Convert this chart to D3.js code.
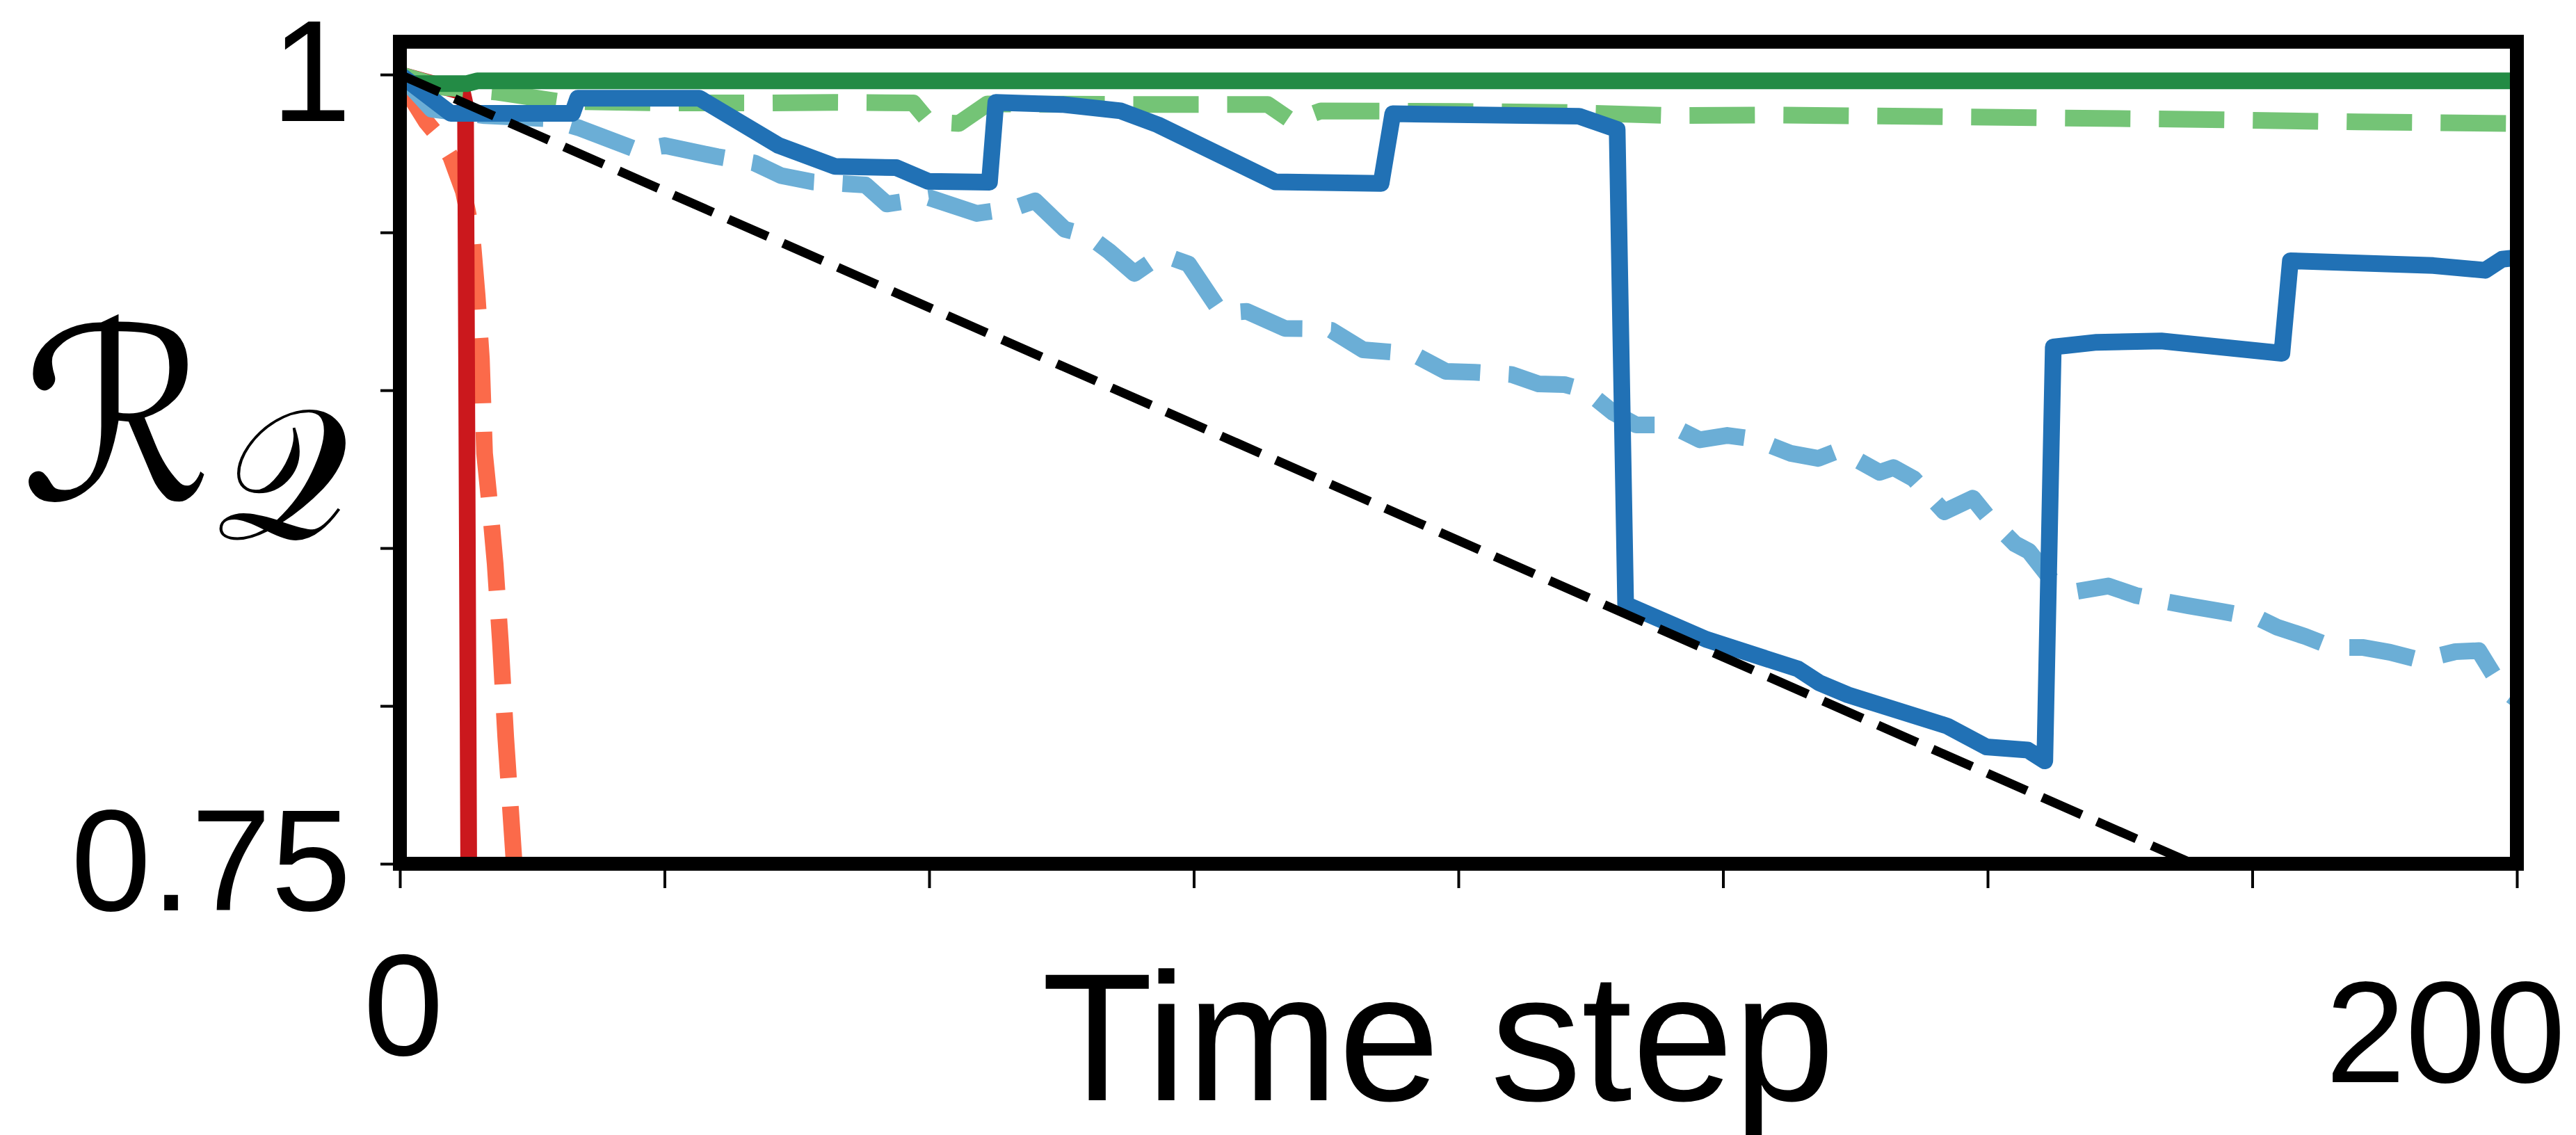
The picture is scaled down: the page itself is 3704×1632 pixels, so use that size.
<!DOCTYPE html>
<html>
<head>
<meta charset="utf-8">
<script src="https://cdnjs.cloudflare.com/ajax/libs/d3/7.8.5/d3.min.js"></script>
<style>
  html, body { margin: 0; padding: 0; background: #fff; }
  svg { display: block; }
  text { font-family: "Liberation Sans", Arial, sans-serif; fill: #000; }
</style>
</head>
<body>
<svg id="chart"></svg>
<script>
const width = 3704
const height = 1632

// [time step, R_Q]
const blackDashed = [[0, 1.0], [169.4, 0.75]]

const greenSolid = [[0, 1.0], [1, 0.9972], [6.3, 0.9971], [7.3, 0.998], [200, 0.998]]

const greenDashed = [[0, 1.0], [4, 0.996], [9, 0.9945], [15, 0.9915], [25, 0.991], [35, 0.991],
    [41, 0.9912], [48.5, 0.991], [50, 0.985], [52.8, 0.9845], [55.5, 0.9907], [70, 0.9905],
    [82, 0.9905], [84.3, 0.9852], [87, 0.9885], [100, 0.9883], [110, 0.988], [120, 0.987],
    [130, 0.9872], [150, 0.9865], [170, 0.9858], [185, 0.985], [200, 0.9845]]

const blueSolid = [[0, 1.0], [4.8, 0.9877], [16.3, 0.9877], [16.8, 0.9925], [28.3, 0.9925],
    [35.8, 0.9775], [41.1, 0.9709], [46.9, 0.9705], [49.9, 0.9662], [55.7, 0.9659],
    [56.3, 0.9912], [62.7, 0.9905], [68.1, 0.9885], [71.6, 0.9841], [82.7, 0.966],
    [92.7, 0.9655], [93.8, 0.9876], [111.4, 0.9868], [115, 0.9826], [115.8, 0.8322],
    [123.4, 0.8211], [132.1, 0.8117], [134.1, 0.8073], [136.8, 0.8035], [146.2, 0.7936],
    [149.9, 0.787], [153.8, 0.786], [155.4, 0.7826], [156.2, 0.9137], [160.3, 0.9152],
    [166.4, 0.9156], [177.8, 0.9117], [178.6, 0.941], [192.1, 0.9395], [197, 0.938],
    [198.6, 0.9415], [200, 0.942]]

const blueDashed = [[0, 1.0], [3, 0.989], [8, 0.987], [14, 0.986], [17, 0.983], [22.5, 0.976],
    [25, 0.9775], [30, 0.974], [33.5, 0.972], [36, 0.968], [39, 0.966], [41, 0.9656],
    [44, 0.965], [46, 0.959], [50, 0.961], [54.5, 0.956], [58, 0.9577], [60, 0.96],
    [62.8, 0.951], [65, 0.949], [67, 0.944], [69.4, 0.937], [72, 0.943], [74.5, 0.94],
    [76.5, 0.93], [77.6, 0.9245], [80, 0.925], [83.6, 0.9196], [86, 0.9195], [88, 0.919],
    [91, 0.9128], [94, 0.912], [96, 0.911], [98.8, 0.906], [101.5, 0.9057], [105, 0.905],
    [107.6, 0.902], [110, 0.9018], [112, 0.9], [114.6, 0.893], [116.8, 0.889], [120, 0.889],
    [122.8, 0.8843], [125.4, 0.8857], [128, 0.8845], [131.4, 0.88], [134, 0.8784],
    [136, 0.881], [139.8, 0.874], [141.1, 0.8755], [143, 0.872], [145.9, 0.8615],
    [148.6, 0.8658], [150, 0.86], [152.6, 0.8513], [153.9, 0.849], [156, 0.84],
    [157.9, 0.836], [161.4, 0.838], [164, 0.835], [166.9, 0.833], [169, 0.8317],
    [172, 0.83], [175.6, 0.8278], [177.3, 0.825], [180, 0.822], [182.7, 0.8185],
    [185.5, 0.8185], [188, 0.817], [190.9, 0.8145], [194.2, 0.8172], [196.4, 0.8175],
    [198.6, 0.8055], [200, 0.802]]

const redSolid = [[0, 1.0], [5.9, 0.9945], [6.2, 0.99], [6.5, 0.75], [6.52, 0.74]]

const redDashed = [[0, 1.0], [1, 0.993], [2.5, 0.985], [3.5, 0.981], [4.8, 0.974], [6.0, 0.963],
    [6.8, 0.95], [7.3, 0.93], [7.7, 0.91], [8.0, 0.88], [8.6, 0.86], [9.0, 0.845],
    [9.5, 0.82], [10.0, 0.79], [10.6, 0.76], [10.8, 0.75], [10.9, 0.74]]

const xTicks = [0, 25, 50, 75, 100, 125, 150, 175, 200]
const yTicks = [0.75, 0.8, 0.85, 0.9, 0.95, 1]
const yTickLabels = ['0.75', '', '', '', '', '1']
const xTickLabels = ['0', '200']

// drawing order, back to front
const series = [
    { data: redDashed, color: '#fb6a4a', dash: '94,41', w: 24 },
    { data: redSolid, color: '#cb181d', dash: null, w: 24 },
    { data: greenDashed, color: '#74c476', dash: '94,41', w: 24 },
    { data: greenSolid, color: '#238b45', dash: null, w: 24 },
    { data: blueDashed, color: '#6baed6', dash: '94,41', w: 24 },
    { data: blueSolid, color: '#2171b5', dash: null, w: 24 },
    { data: blackDashed, color: '#000', dash: '62,24', w: 13 }
]

const plotLeft = 575, plotRight = 3619, plotTop = 60, plotBottom = 1242

let svg = d3.select('#chart').attr('width', width).attr('height', height)
svg.append('rect').attr('width', width).attr('height', height).attr('fill', '#fff')

let xScale = d3.scaleLinear().domain([0, 200]).range([plotLeft, plotRight])
let yScale = d3.scaleLinear().domain([0.75, 1.0104]).range([plotBottom, plotTop])

svg.append('clipPath').attr('id', 'plot-clip')
    .append('rect')
    .attr('x', plotLeft).attr('y', plotTop)
    .attr('width', plotRight - plotLeft).attr('height', plotBottom - plotTop)

// axes (ticks only, frame drawn separately)
let yAxis = d3.axisLeft(yScale)
    .tickValues(yTicks)
    .tickSize(28)
    .tickPadding(42)
    .tickFormat((d, i) => yTickLabels[i])

let gy = svg.append('g')
    .attr('transform', 'translate(' + plotLeft + ',0)')
    .call(yAxis)
gy.select('.domain').remove()
gy.selectAll('line').attr('stroke', '#000').attr('stroke-width', 4)
gy.selectAll('text').attr('font-size', 207).attr('fill', '#000')
    .style('font-family', '"Liberation Sans", Arial, sans-serif')

let xAxis = d3.axisBottom(xScale)
    .tickValues(xTicks)
    .tickSize(35)
    .tickFormat('')

let gx = svg.append('g')
    .attr('transform', 'translate(0,' + plotBottom + ')')
    .call(xAxis)
gx.select('.domain').remove()
gx.selectAll('line').attr('stroke', '#000').attr('stroke-width', 4)

// x tick labels sit a little off their ticks in the original
svg.append('text')
    .attr('x', xScale(0) + 5)
    .attr('y', 1517)
    .attr('text-anchor', 'middle')
    .attr('font-size', 207)
    .text(xTickLabels[0])

svg.append('text')
    .attr('x', xScale(200) + 70)
    .attr('y', 1556)
    .attr('text-anchor', 'end')
    .attr('font-size', 207)
    .text(xTickLabels[1])

let line = d3.line()
    .x(d => xScale(d[0]))
    .y(d => yScale(d[1]))

let plot = svg.append('g').attr('clip-path', 'url(#plot-clip)')

series.forEach(s => {
    plot.append('path')
        .datum(s.data)
        .attr('d', line)
        .attr('fill', 'none')
        .attr('stroke', s.color)
        .attr('stroke-width', s.w)
        .attr('stroke-linejoin', 'round')
        .attr('stroke-dasharray', s.dash)
})

// frame
svg.append('rect')
    .attr('x', plotLeft).attr('y', plotTop)
    .attr('width', plotRight - plotLeft).attr('height', plotBottom - plotTop)
    .attr('fill', 'none')
    .attr('stroke', '#000')
    .attr('stroke-width', 20)

// axis titles
svg.append('text')
    .attr('x', 2068)
    .attr('y', 1582)
    .attr('text-anchor', 'middle')
    .attr('font-size', 262)
    .text('Time step')

let ylab = svg.append('text')
    .attr('x', 30)
    .attr('y', 719)
    .style('font-family', '"DejaVu Serif", "DejaVu Sans", serif')
ylab.append('tspan').attr('font-size', 345).text('ℛ')
ylab.append('tspan').attr('font-size', 265).attr('dy', 55).attr('dx', 5).text('𝒬')
</script>
</body>
</html>
